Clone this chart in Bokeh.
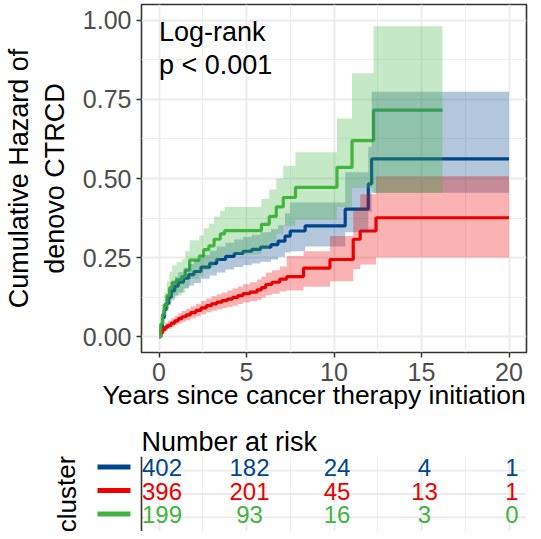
from bokeh.plotting import figure
from bokeh.models import FixedTicker, Range1d, ColumnDataSource, Title
from bokeh.embed import file_html
from bokeh.resources import INLINE
from bokeh.core.properties import value

FONT = "Liberation Sans"
COLORS = ["#00468B", "#ED0000", "#42B540"]
CLUSTERS = ["1", "2", "3"]

# ---- cumulative hazard step data ----
BLUE_T = [0, 0.1, 0.2, 0.3, 0.4, 0.55, 0.7, 0.9, 1.1, 1.4, 1.7, 2.0, 2.4, 2.9, 3.3, 3.8, 4.3, 4.8, 5.3, 5.8,
          6.4, 6.8, 7.2, 7.5, 8.35, 10.64, 11.96, 12.15, 20]
BLUE_H = [0, 0.03, 0.06, 0.085, 0.105, 0.125, 0.145, 0.16, 0.172, 0.185, 0.196, 0.206, 0.22, 0.232, 0.244,
          0.254, 0.263, 0.27, 0.276, 0.283, 0.291, 0.302, 0.318, 0.334, 0.35, 0.403, 0.483, 0.562, 0.562]
BLUE_LO = [0, 0.02, 0.045, 0.065, 0.082, 0.1, 0.117, 0.13, 0.14, 0.152, 0.162, 0.17, 0.183, 0.193, 0.203,
           0.212, 0.22, 0.226, 0.231, 0.237, 0.244, 0.253, 0.266, 0.27, 0.285, 0.33, 0.395, 0.455, 0.455]
BLUE_HI = [0, 0.045, 0.078, 0.105, 0.128, 0.15, 0.172, 0.19, 0.204, 0.218, 0.23, 0.242, 0.258, 0.272, 0.285,
           0.297, 0.307, 0.315, 0.322, 0.33, 0.34, 0.352, 0.39, 0.424, 0.424, 0.52, 0.6, 0.774, 0.774]

RED_T = [0, 0.1, 0.2, 0.35, 0.5, 0.7, 0.9, 1.1, 1.3, 1.55, 1.8, 2.1, 2.4, 2.7, 3.0, 3.3, 3.6, 3.9, 4.2, 4.5,
         4.8, 5.2, 5.6, 5.85, 6.1, 6.45, 6.9, 7.3, 8.26, 9.77, 11.1, 11.5, 12.4, 20]
RED_H = [0, 0.012, 0.022, 0.03, 0.036, 0.043, 0.05, 0.057, 0.063, 0.069, 0.076, 0.083, 0.091, 0.098, 0.104,
         0.109, 0.114, 0.119, 0.124, 0.13, 0.136, 0.141, 0.148, 0.155, 0.165, 0.172, 0.182, 0.19, 0.217, 0.244,
         0.308, 0.334, 0.376, 0.376]
RED_LO = [0, 0.006, 0.013, 0.019, 0.024, 0.03, 0.036, 0.042, 0.047, 0.052, 0.058, 0.064, 0.071, 0.077, 0.082,
          0.086, 0.09, 0.094, 0.098, 0.103, 0.108, 0.112, 0.117, 0.123, 0.131, 0.136, 0.143, 0.146, 0.158, 0.175,
          0.213, 0.228, 0.25, 0.25]
RED_HI = [0, 0.02, 0.033, 0.043, 0.05, 0.058, 0.066, 0.074, 0.081, 0.088, 0.096, 0.104, 0.113, 0.121, 0.128,
          0.134, 0.14, 0.146, 0.152, 0.159, 0.166, 0.172, 0.181, 0.19, 0.202, 0.21, 0.222, 0.255, 0.27, 0.318,
          0.4, 0.45, 0.507, 0.507]

GREEN_T = [0, 0.1, 0.2, 0.3, 0.45, 0.6, 0.75, 1.0, 1.3, 1.5, 1.75, 2.3, 2.55, 2.85, 3.15, 3.5, 3.75, 5.85,
           6.3, 6.7, 7.1, 7.8, 10.17, 11.03, 12.26, 16.2]
GREEN_H = [0, 0.04, 0.07, 0.1, 0.13, 0.155, 0.172, 0.18, 0.19, 0.21, 0.242, 0.255, 0.275, 0.287, 0.308, 0.325,
           0.335, 0.355, 0.38, 0.41, 0.44, 0.472, 0.535, 0.62, 0.716, 0.716]
GREEN_LO = [0, 0.02, 0.04, 0.065, 0.09, 0.11, 0.125, 0.13, 0.138, 0.155, 0.182, 0.193, 0.21, 0.22, 0.238, 0.252,
            0.26, 0.277, 0.298, 0.325, 0.35, 0.37, 0.41, 0.47, 0.454, 0.454]
GREEN_HI = [0, 0.065, 0.105, 0.14, 0.175, 0.205, 0.225, 0.235, 0.245, 0.27, 0.305, 0.32, 0.343, 0.357, 0.38,
            0.398, 0.41, 0.435, 0.465, 0.5, 0.54, 0.583, 0.69, 0.833, 0.981, 0.981]

# ---- axes / ticks ----
X_TICKS = [0, 5, 10, 15, 20]
X_MINOR = [2.5, 7.5, 12.5, 17.5]
Y_TICKS = [0, 0.25, 0.5, 0.75, 1.0]
Y_MINOR = [0.125, 0.375, 0.625, 0.875]
Y_TICK_LABELS = ["0.00", "0.25", "0.50", "0.75", "1.00"]
X_RANGE = (-1, 21)
Y_RANGE = (-0.05, 1.05)

# ---- risk table ----
RISK_TIMES = [0, 5, 10, 15, 20]
RISK_1 = [402, 182, 24, 4, 1]
RISK_2 = [396, 201, 45, 13, 1]
RISK_3 = [199, 93, 16, 3, 0]
RISK_ROWS = [3, 2, 1]
T_RANGE = (0.4, 3.6)

FRAME_W = 385
FRAME_H = 348
T_FRAME_H = 75
LEFT = 133
RIGHT = 7
T_LEFT = 8
PX_PER_X = FRAME_W / (X_RANGE[1] - X_RANGE[0])
PX_PER_TY = T_FRAME_H / (T_RANGE[1] - T_RANGE[0])

GRID = "#EBEBEB"
DARK = "#333333"
TICKC = "#4D4D4D"

# ================= main cumulative-hazard panel =================
p = figure(frame_width=FRAME_W, frame_height=FRAME_H, min_border_left=LEFT, min_border_right=RIGHT,
           min_border_top=4, min_border_bottom=72,
           x_range=Range1d(*X_RANGE), y_range=Range1d(*Y_RANGE),
           output_backend="svg", toolbar_location=None)
p.background_fill_color = "white"
p.border_fill_color = "white"
p.outline_line_color = DARK
p.outline_line_width = 1.6

p.xaxis.ticker = FixedTicker(ticks=X_TICKS, minor_ticks=X_MINOR)
p.yaxis.ticker = FixedTicker(ticks=Y_TICKS, minor_ticks=Y_MINOR)
p.yaxis.major_label_overrides = {tk: lb for tk, lb in zip(Y_TICKS, Y_TICK_LABELS)}
for ax in (p.xaxis, p.yaxis):
    ax.axis_line_color = None
    ax.major_tick_line_color = DARK
    ax.major_tick_line_width = 1.5
    ax.major_tick_out = 5
    ax.major_tick_in = 0
    ax.minor_tick_line_color = None
    ax.major_label_text_font = FONT
    ax.major_label_text_font_size = "25px"
    ax.major_label_text_color = TICKC
    ax.axis_label_text_font = FONT
    ax.axis_label_text_font_size = "27px"
    ax.axis_label_text_font_style = "normal"
    ax.axis_label_text_color = "black"
p.xaxis.major_label_standoff = 5
p.yaxis.major_label_standoff = 5
p.yaxis.axis_label = "Cumulative Hazard of\ndenovo CTRCD"
p.yaxis.axis_label_standoff = 10

# x-axis title, left-shifted like the reference
p.add_layout(Title(text="Years since cancer therapy initiation", align="left", offset=-39,
                   text_font=FONT, text_font_size="26.5px", text_font_style="normal",
                   text_color="black", standoff=-11), "below")

p.grid.grid_line_color = GRID
p.grid.grid_line_width = 1.8
p.grid.minor_grid_line_color = GRID
p.grid.minor_grid_line_width = 0.9

series = [
    (BLUE_T, BLUE_H, BLUE_LO, BLUE_HI),
    (RED_T, RED_H, RED_LO, RED_HI),
    (GREEN_T, GREEN_H, GREEN_LO, GREEN_HI),
]
for (tt, h, lo, hi), c in zip(series, COLORS):
    p.step(x=tt, y=h, mode="after", line_color=c, line_width=3.2)
for (tt, h, lo, hi), c in zip(series, COLORS):
    p.varea_step(x=tt, y1=lo, y2=hi, step_mode="after", fill_color=c, fill_alpha=0.3)

p.text(x=[0], y=[0.962], text=["Log-rank"], text_font=value(FONT), text_font_size="27px",
       text_color="black", text_baseline="alphabetic", text_align="left")
p.text(x=[0], y=[0.86], text=["p < 0.001"], text_font=value(FONT), text_font_size="27px",
       text_color="black", text_baseline="alphabetic", text_align="left")

# ================= risk table =================
# the table frame also covers the left margin (strata keys + "cluster"), same x scale as the panel
T_FRAME_W = LEFT + FRAME_W
T_X0 = X_RANGE[1] - T_FRAME_W / PX_PER_X
t = figure(frame_width=T_FRAME_W, frame_height=T_FRAME_H, min_border_left=T_LEFT, min_border_right=RIGHT,
           min_border_bottom=0, min_border_top=0,
           x_range=Range1d(T_X0, X_RANGE[1]), y_range=Range1d(*T_RANGE),
           output_backend="svg", toolbar_location=None, title="Number at risk")
t.title.text_font = FONT
t.title.text_font_size = "27px"
t.title.text_font_style = "normal"
t.title.text_color = "black"
t.title.offset = LEFT
t.title.standoff = 0
t.outline_line_color = None
t.background_fill_color = "white"
t.border_fill_color = "white"
t.xaxis.visible = False
t.yaxis.visible = False
t.xgrid.ticker = FixedTicker(ticks=X_TICKS, minor_ticks=X_MINOR)
t.xgrid.grid_line_color = GRID
t.xgrid.grid_line_width = 1.8
t.xgrid.minor_grid_line_color = GRID
t.xgrid.minor_grid_line_width = 0.9
t.ygrid.visible = False

n = len(RISK_ROWS)
t.segment(x0=[X_RANGE[0]] * n, x1=[X_RANGE[1]] * n, y0=RISK_ROWS, y1=RISK_ROWS,
          line_color=GRID, line_width=1.8)
t.segment(x0=[X_RANGE[0]], x1=[X_RANGE[0]], y0=[T_RANGE[0]], y1=[T_RANGE[1]],
          line_color=DARK, line_width=1.6)

for vals, row, c in zip([RISK_1, RISK_2, RISK_3], RISK_ROWS, COLORS):
    src = ColumnDataSource(dict(x=RISK_TIMES, y=[row] * len(vals), txt=[str(v) for v in vals]))
    t.text(x="x", y="y", text="txt", source=src, text_font=value(FONT), text_font_size="24px",
           text_color=c, text_align="center", text_baseline="middle", x_offset=3, y_offset=-3)

# coloured strata keys (like ggsurvplot's coloured tick labels) and the "cluster" title
KEY_GAP_PX = 11
KEY_LEN_PX = 33
KEY_RAISE_PX = 3.5
key_x1 = X_RANGE[0] - KEY_GAP_PX / PX_PER_X
key_x0 = key_x1 - KEY_LEN_PX / PX_PER_X
key_y = [r + KEY_RAISE_PX / PX_PER_TY for r in RISK_ROWS]
t.segment(x0=[key_x0] * n, x1=[key_x1] * n, y0=key_y, y1=key_y, line_color=COLORS, line_width=5)

CLUSTER_GAP_PX = 60
t.text(x=[X_RANGE[0] - CLUSTER_GAP_PX / PX_PER_X], y=[sum(T_RANGE) / 2], text=["cluster"], angle=1.5708,
       text_font=value(FONT), text_font_size="26px", text_color="black",
       text_align="center", text_baseline="bottom")

open("out.html", "w").write(file_html([p, t], INLINE))
